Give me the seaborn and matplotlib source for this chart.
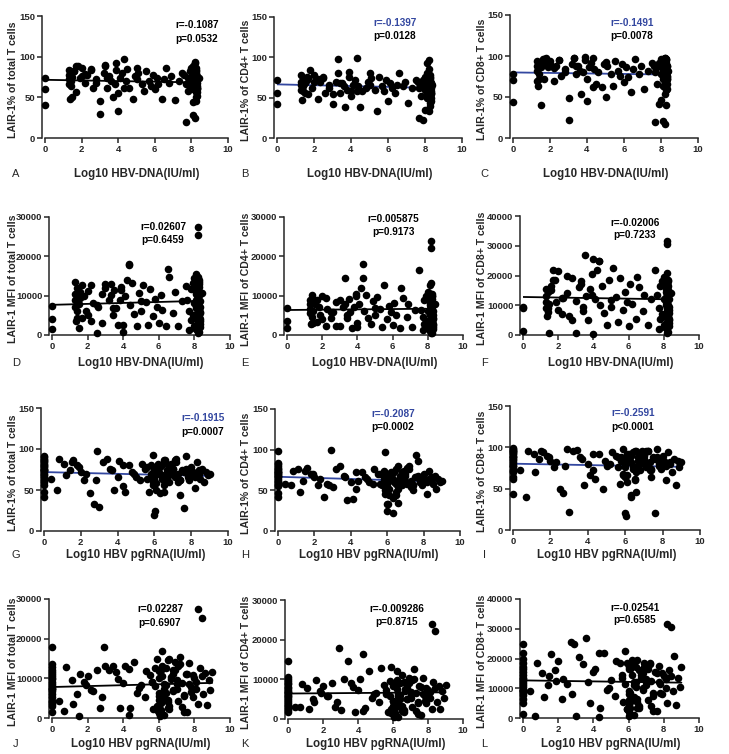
import matplotlib
matplotlib.use("Agg")
import matplotlib.pyplot as plt
import seaborn as sns
import pandas as pd

# one entry per patient: undetectable DNA, pgRNA-negative, mid viral load, high viral load
dna_log10 = [
    0, 0, 0,
    1.3, 1.3, 1.3, 1.3, 1.35, 1.4, 1.4, 1.5, 1.6, 1.7, 1.8, 2.0, 2.2, 2.5, 2.8, 3.3, 3.4, 3.9, 4.3, 5.0,
    1.4, 1.5, 1.6, 1.7, 1.9, 2.0, 2.2, 2.3, 2.5, 2.6,
    2.8, 4.0, 3.0, 3.0, 3.2, 3.3, 3.4, 3.5, 3.6, 3.7,
    3.8, 3.9, 4.0, 4.1, 4.2, 4.3, 4.4, 4.5, 4.6, 4.8,
    4.9, 5.0, 5.1, 5.3, 5.4, 5.5, 5.7, 5.8, 5.9, 6.0,
    6.1, 6.2, 6.4, 6.5, 6.6, 6.8, 6.9, 7.1, 7.3, 7.5,
    7.6, 7.7, 7.7, 7.8, 7.8, 7.9, 7.9, 8.0, 8.0, 8.0,
    8.1, 8.1, 8.1, 8.1, 8.1, 8.1, 8.1, 8.1, 8.1, 8.1,
    8.2, 8.2, 8.2, 8.2, 8.2, 8.2, 8.2, 8.2, 8.2, 8.2,
    8.2, 8.2, 8.2, 8.2, 8.2, 8.25, 8.25, 8.25, 8.25, 8.25,
    8.3, 8.3, 8.3, 8.4, 8.2,
    8.2, 8.25, 8.3, 8.2, 8.25, 8.3, 8.2, 8.25, 8.3, 8.2,
    8.25, 8.3, 8.2, 8.25, 8.3, 8.2, 8.25, 8.3, 8.2, 8.25,
]
pgrna_log10 = [
    0, 0, 0,
    0, 0, 0, 0, 0, 0, 0, 0, 0, 0, 0, 0, 0, 0, 0, 0, 0, 0, 0, 0,
    0.4, 0.7, 1.1, 0.8, 1.4, 1.6, 1.2, 1.9, 1.5, 2.2,
    2.0, 2.7, 2.5, 3.0, 1.8, 3.4, 2.8, 3.6, 2.3, 3.8,
    4.0, 3.2, 4.3, 3.7, 4.6, 2.9, 4.9, 4.1, 5.2, 4.4,
    5.5, 4.8, 5.8, 5.0, 6.0, 5.3, 6.1, 5.6, 6.3, 5.9,
    6.0, 6.4, 5.7, 6.2, 6.6, 6.0, 6.8, 6.5, 7.0, 4.3,
    5.6, 6.0, 6.0, 6.0, 6.1, 6.2, 6.3, 6.4, 6.5, 6.6,
    6.7, 6.8, 6.9, 7.0, 7.1, 7.2, 7.3, 7.4, 7.5, 7.6,
    7.7, 7.8, 7.9, 8.0, 8.1, 8.2, 8.3, 8.4, 8.5, 8.6,
    8.7, 8.8, 8.9, 9.0, 5.9, 6.1, 6.3, 6.5, 6.8, 7.1,
    7.4, 7.7, 8.2, 8.4, 6.05,
    5.8, 6.0, 6.2, 6.4, 6.6, 6.8, 7.0, 7.2, 7.4, 7.6,
    7.8, 5.9, 6.1, 6.3, 6.5, 6.7, 6.9, 7.3, 7.9, 8.1,
]
pct_total = [
    74, 60, 41,
    84, 78, 72, 66, 48, 80, 70, 75, 82, 56, 88, 76, 79, 85, 68, 90, 74, 92, 62, 86,
    64, 50, 82, 88, 74, 86, 68, 78, 84, 62,
    72, 33, 46, 29, 80, 88, 62, 76, 70, 50,
    66, 84, 55, 74, 80, 97, 70, 85, 62, 48,
    76, 72, 80, 66, 58, 82, 70, 64, 78, 60,
    74, 66, 48, 72, 86, 68, 76, 47, 70, 80,
    78, 20, 66, 74, 58, 82, 70, 64, 86, 68,
    72, 60, 80, 76, 66, 88, 70, 44, 74, 28,
    92, 68, 62, 78, 72, 66, 84, 70, 64, 76,
    60, 72, 68, 70, 93, 50, 46, 56, 80, 86,
    62, 76, 52, 74, 25,
    70, 64, 74, 80, 58, 68, 76, 84, 62, 72,
    66, 56, 78, 70, 64, 74, 82, 60, 72, 68,
]
pct_cd4 = [
    72, 56, 42,
    78, 70, 66, 60, 47, 75, 64, 68, 72, 55, 84, 70, 73, 76, 62, 98, 68, 82, 58, 80,
    58, 56, 76, 74, 62, 78, 48, 70, 74, 56,
    66, 58, 42, 54, 70, 80, 56, 68, 64, 38,
    60, 76, 52, 66, 72, 99, 64, 39, 58, 62,
    70, 66, 74, 60, 33, 76, 64, 58, 72, 46,
    68, 62, 56, 66, 80, 64, 70, 44, 62, 72,
    70, 25, 62, 66, 52, 72, 22, 60, 76, 35,
    64, 56, 70, 68, 58, 80, 62, 50, 66, 93,
    86, 60, 56, 70, 64, 60, 74, 62, 58, 68,
    52, 64, 60, 62, 97, 44, 40, 48, 72, 78,
    56, 68, 46, 66, 33,
    64, 58, 68, 72, 52, 62, 70, 76, 56, 66,
    60, 50, 70, 64, 58, 68, 74, 54, 66, 62,
]
pct_cd8 = [
    78, 71, 44,
    94, 88, 82, 70, 64, 92, 78, 86, 96, 72, 98, 90, 85, 95, 80, 97, 88, 99, 62, 93,
    72, 40, 92, 96, 86, 94, 70, 88, 95, 76,
    84, 45, 49, 22, 90, 97, 78, 88, 82, 54,
    80, 95, 72, 86, 92, 98, 84, 66, 80, 62,
    90, 50, 88, 78, 64, 94, 82, 76, 90, 68,
    86, 74, 56, 84, 96, 78, 88, 60, 82, 92,
    88, 20, 80, 86, 66, 92, 42, 78, 96, 46,
    84, 72, 90, 86, 76, 96, 82, 64, 88, 21,
    98, 80, 74, 90, 84, 78, 94, 80, 70, 86,
    54, 84, 76, 82, 98, 58, 40, 62, 92, 96,
    72, 88, 60, 82, 17,
    84, 76, 88, 94, 70, 80, 90, 96, 74, 86,
    78, 66, 92, 82, 76, 88, 95, 72, 86, 80,
]
mfi_total = [
    7300, 4100, 1500,
    13500, 10500, 9000, 7200, 3500, 12000, 6000, 8000, 11000, 4200,
    9800, 5200, 12800, 7600, 3000, 10200, 6800, 11500, 18000, 8600,
    4200, 1800, 9500, 12800, 6000, 11200, 3500, 8200, 500, 7000,
    10500, 2500, 12000, 13000, 9000, 13000, 5200, 11500, 6800, 2600,
    8800, 12200, 700, 9800, 14000, 17800, 7600, 13200, 5400, 2400,
    10800, 6200, 12600, 8400, 2600, 11800, 4800, 9200, 7200, 3000,
    10200, 6400, 2200, 16800, 14800, 5600, 11000, 2400, 8600, 12400,
    9000, 1200, 6200, 11800, 3800, 13200, 5000, 8200, 14500, 2200,
    10400, 6800, 12000, 7400, 4200, 15500, 8800, 1500, 11000, 1400,
    13800, 7800, 5400, 10000, 9200, 27500, 12600, 25300, 6000, 11400,
    3200, 9600, 7000, 11600, 14800, 2000, 800, 4600, 12200, 13000,
    5800, 8600, 3600, 10600, 600,
    8000, 4500, 10500, 12500, 3000, 7000, 9500, 13500, 5500, 11000,
    6500, 2000, 12000, 8500, 4000, 9800, 14000, 2800, 10800, 7200,
]
mfi_cd4 = [
    6900, 3600, 1700,
    9000, 8000, 6500, 5500, 2800, 10200, 4500, 6000, 8800, 3200,
    7200, 4000, 9500, 5800, 2200, 7800, 5000, 10500, 14500, 6800,
    3000, 3000, 7800, 8800, 5000, 9800, 2400, 6600, 4200, 5800,
    8400, 3000, 9000, 2200, 7000, 14500, 4200, 9200, 5800, 1800,
    7200, 10000, 2000, 8000, 12000, 18000, 6200, 10200, 4400, 2800,
    8600, 5200, 9600, 6600, 2000, 12800, 4000, 7400, 5800, 2600,
    8200, 5000, 1800, 12000, 9400, 4600, 7800, 2000, 6400, 16500,
    6400, 1200, 4600, 8800, 2800, 9800, 3600, 6000, 11000, 1800,
    7600, 5000, 9000, 5400, 3000, 12600, 6600, 1200, 8200, 1000,
    10400, 5800, 4000, 7400, 6800, 24000, 9400, 22200, 4400, 8400,
    2400, 7000, 5200, 8600, 13200, 1600, 600, 3400, 9200, 9800,
    4200, 6200, 2600, 7800, 400,
    5800, 3200, 7600, 9000, 2200, 5000, 6800, 10000, 4000, 8000,
    4600, 1400, 8600, 6200, 2800, 7000, 10400, 2000, 7800, 5200,
]
mfi_cd8 = [
    9500, 9200, 1400,
    15500, 13000, 11000, 9000, 6500, 14500, 7800, 10500, 16500, 22000,
    18500, 8500, 12500, 20000, 5000, 17000, 9500, 13500, 25000, 11800,
    9000, 800, 15000, 18500, 11000, 21500, 7000, 12500, 14000, 6500,
    19000, 25500, 11500, 800, 16000, 18000, 8000, 27000, 13000, 5000,
    15500, 20500, 400, 12000, 22000, 24800, 10000, 16500, 7500, 3500,
    18500, 9500, 22500, 12800, 4500, 19200, 8500, 14500, 11000, 3000,
    17000, 10500, 5500, 19500, 16000, 8000, 13500, 3500, 12000, 22000,
    13500, 2000, 9000, 16500, 5500, 18000, 7000, 12000, 19500, 3500,
    14500, 10000, 17000, 11000, 6000, 18500, 12500, 2500, 15500, 2200,
    17500, 11500, 8000, 14000, 13000, 31500, 16000, 30500, 9000, 20800,
    4500, 13500, 10500, 17000, 18500, 3500, 1000, 6500, 15000, 16500,
    8500, 12000, 5000, 14000, 800,
    11500, 6000, 14500, 17000, 4000, 9500, 13000, 18000, 7500, 15000,
    8500, 3000, 16500, 12000, 5500, 13500, 18500, 4000, 15000, 10000,
]

df = pd.DataFrame({
    "dna": dna_log10, "pgrna": pgrna_log10,
    "pct_total": pct_total, "pct_cd4": pct_cd4, "pct_cd8": pct_cd8,
    "mfi_total": mfi_total, "mfi_cd4": mfi_cd4, "mfi_cd8": mfi_cd8,
})

X_LABELS = {"dna": "Log10 HBV-DNA(IU/ml)", "pgrna": "Log10 HBV pgRNA(IU/ml)"}
Y_LABELS = {
    "pct_total": "LAIR-1% of total T cells", "pct_cd4": "LAIR-1% of CD4+ T cells",
    "pct_cd8": "LAIR-1% of CD8+ T cells", "mfi_total": "LAIR-1 MFI of total T cells",
    "mfi_cd4": "LAIR-1 MFI of CD4+ T cells", "mfi_cd8": "LAIR-1 MFI of CD8+ T cells",
}
Y_TOPS = {"pct_total": 150, "pct_cd4": 150, "pct_cd8": 150,
          "mfi_total": 30000, "mfi_cd4": 30000, "mfi_cd8": 40000}
Y_STEPS = {"pct_total": 50, "pct_cd4": 50, "pct_cd8": 50,
           "mfi_total": 10000, "mfi_cd4": 10000, "mfi_cd8": 10000}

# letter, x, y, r text, p text, significant, box px (left, right, top, bottom), r/p centre px (x, y_r, y_p)
PANELS = [
    ("A", "dna", "pct_total", "r=-0.1087", "p=0.0532", False, (45, 228, 16, 138), (197, 25, 39)),
    ("B", "dna", "pct_cd4", "r=-0.1397", "p=0.0128", True, (277, 462, 17, 138), (395, 23, 36)),
    ("C", "dna", "pct_cd8", "r=-0.1491", "p=0.0078", True, (513, 698, 15, 138), (632, 23, 36)),
    ("D", "dna", "mfi_total", "r=0.02607", "p=0.6459", False, (52, 230, 217, 335), (163, 227, 240)),
    ("E", "dna", "mfi_cd4", "r=0.005875", "p=0.9173", False, (287, 463, 217, 335), (393, 219, 232)),
    ("F", "dna", "mfi_cd8", "r=-0.02006", "p=0.7233", False, (523, 699, 216, 335), (635, 223, 235)),
    ("G", "pgrna", "pct_total", "r=-0.1915", "p=0.0007", True, (44, 228, 408, 531), (203, 418, 432)),
    ("H", "pgrna", "pct_cd4", "r=-0.2087", "p=0.0002", True, (278, 460, 409, 531), (393, 414, 427)),
    ("I", "pgrna", "pct_cd8", "r=-0.2591", "p<0.0001", True, (513, 700, 406, 530), (633, 413, 427)),
    ("J", "pgrna", "mfi_total", "r=0.02287", "p=0.6907", False, (52, 230, 599, 718), (160, 609, 623)),
    ("K", "pgrna", "mfi_cd4", "r=-0.009286", "p=0.8715", False, (288, 463, 600, 719), (397, 609, 622)),
    ("L", "pgrna", "mfi_cd8", "r=-0.02541", "p=0.6585", False, (523, 699, 599, 718), (635, 608, 620)),
]
ROW_LABEL_Y = [174, 363, 555, 744]
COL_LETTER_X = [16, 245, 484]
COL_YLABEL_X = [13, 246, 482]

BLUE = "#3347a0"
W, H = 729, 754

sns.set_theme(style="ticks")
plt.rcParams["font.family"] = ["Liberation Sans", "DejaVu Sans"]

fig = plt.figure(figsize=(W / 100, H / 100), dpi=100)
fx = lambda px: px / W
fy = lambda py: 1 - py / H

for i, (letter, xcol, ycol, rtxt, ptxt, sig, box, rp) in enumerate(PANELS):
    row, col = divmod(i, 3)
    left, right, top, bottom = box
    ax = fig.add_axes([fx(left), fy(bottom), (right - left) / W, (bottom - top) / H])
    line_color = BLUE if sig else "black"

    sns.regplot(data=df, x=xcol, y=ycol, ax=ax, scatter=False, ci=None,
                color=line_color, line_kws={"lw": 1.3, "zorder": 2})
    sns.scatterplot(data=df, x=xcol, y=ycol, ax=ax, color="black", s=30,
                    linewidth=0, zorder=3, clip_on=False)

    top_val = Y_TOPS[ycol]
    ax.set_xlim(0, 10)
    ax.set_ylim(0, top_val)
    ax.set_xticks(range(0, 11, 2))
    ax.set_yticks(range(0, top_val + 1, Y_STEPS[ycol]))
    sns.despine(ax=ax)
    ax.spines["left"].set_position(("outward", 2))
    for side in ("left", "bottom"):
        ax.spines[side].set_linewidth(1.1)
    ax.tick_params(width=1.1, length=3.5, labelsize=6.8, pad=1.5, direction="out")
    for lab in ax.get_xticklabels() + ax.get_yticklabels():
        lab.set_fontweight("bold")

    ax.set_xlabel(X_LABELS[xcol], fontsize=8.3, fontweight="bold")
    ax.xaxis.set_label_coords(fx((left + right) / 2), fy(ROW_LABEL_Y[row]), transform=fig.transFigure)
    ax.xaxis.label.set_va("center")
    ax.set_ylabel(Y_LABELS[ycol], fontsize=7.6, fontweight="bold")
    ax.yaxis.set_label_coords(fx(COL_YLABEL_X[col]), fy((top + bottom) / 2 + 3), transform=fig.transFigure)
    ax.yaxis.label.set_va("center")

    fig.text(fx(rp[0]), fy(rp[1]), rtxt, ha="center", va="center", fontsize=7.2,
             fontweight="bold", color=BLUE if sig else "black")
    fig.text(fx(rp[0]), fy(rp[2]), ptxt, ha="center", va="center", fontsize=7.2,
             fontweight="bold", color="black")
    fig.text(fx(COL_LETTER_X[col]), fy(ROW_LABEL_Y[row]), letter, ha="center", va="center",
             fontsize=8)

fig.savefig("out.png", dpi=100)
